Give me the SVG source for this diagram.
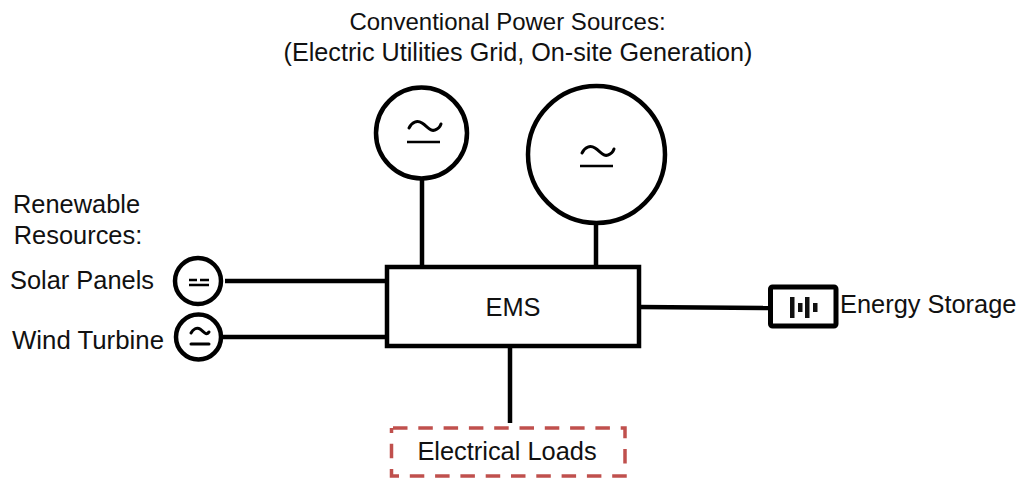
<svg xmlns="http://www.w3.org/2000/svg" width="1021" height="483" viewBox="0 0 1021 483">
<style>
text{font-family:"Liberation Sans",Arial,sans-serif;font-size:25.4px;fill:#111}
.c{text-anchor:middle}
.o{fill:#fff;stroke:#000;stroke-width:4.5}
.s{fill:none;stroke:#000;stroke-width:2.500;stroke-linecap:butt}
.w{fill:none;stroke:#000;stroke-width:3;stroke-linecap:round}
.l{fill:none;stroke:#000;stroke-width:4.5}
</style>
<rect width="1021" height="483" fill="#fff"/>
<g id="connectors">
<path class="l" d="M422 178V267"/>
<path class="l" d="M596 222V267"/>
<path class="l" d="M225 281H387"/>
<path class="l" d="M223 337H387"/>
<path class="l" d="M639 307L770 308"/>
<path class="l" d="M510 346V423"/>
</g>
<g id="title"><text class="c" x="507.500" y="30" style="font-size:24px">Conventional Power Sources:</text>
<text class="c" x="518" y="61" style="font-size:25.2px">(Electric Utilities Grid, On-site Generation)</text></g>
<g id="gen1"><circle class="o" cx="421.500" cy="133" r="45.500"/>
<path class="w" d="M409 128C412 122 417 120 422 123C428 127 431 132 435 130C438 129 440 127 441 124"/><path class="s" d="M407 142H440"/></g>
<g id="gen2"><circle class="o" cx="596.500" cy="154.500" r="68.500"/>
<path class="w" d="M582 153C585 147 590 145 595 148C601 152 604 157 608 155C611 154 613 152 614 149"/><path class="s" d="M580 166H613"/></g>
<g id="renewable-label"><text class="c" x="76.500" y="213">Renewable</text><text class="c" x="78" y="244">Resources:</text></g>
<g id="solar"><text x="10" y="289">Solar Panels</text>
<circle class="o" cx="198" cy="281" r="23"/>
<path class="s" d="M189 280H197M200 280H209M189 285H209"/></g>
<g id="wind"><text x="12" y="349" style="font-size:25.8px">Wind Turbine</text>
<circle class="o" cx="198.500" cy="337" r="22.500"/>
<path class="w" d="M191 333C193 329 197 327 200 329C204 332 206 336 209 332"/><path class="w" d="M191 344H209"/></g>
<g id="ems"><rect class="o" x="387" y="267" width="252" height="79"/>
<text class="c" x="513" y="316">EMS</text></g>
<g id="storage"><rect x="770.500" y="287" width="65.500" height="39" rx="2" fill="#fff" stroke="#000" stroke-width="5"/>
<path d="M790 297h4.500v21h-4.500zM798 303h4.500v9h-4.500zM805 297h4.500v21h-4.500zM813 303h4.500v9h-4.500z" fill="#111"/>
<text x="840" y="313">Energy Storage</text></g>
<g id="loads"><rect x="391.500" y="428" width="233.500" height="48" fill="none" stroke="#c0504d" stroke-width="3.500" stroke-dasharray="14.500 10.800" stroke-dashoffset="-1.500"/>
<text class="c" x="507" y="460">Electrical Loads</text></g>
</svg>
